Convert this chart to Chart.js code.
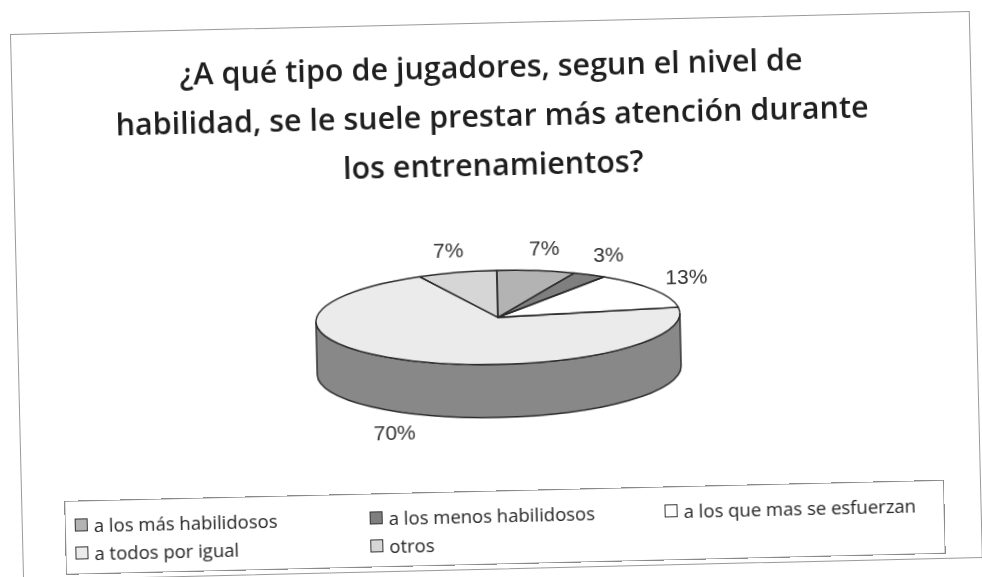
<!DOCTYPE html>
<html>
<head>
<meta charset="utf-8">
<script src="https://cdn.jsdelivr.net/npm/chart.js@4.4.1/dist/chart.umd.min.js"></script>
<style>
  body { margin: 0; background: #fff; width: 982px; height: 577px; overflow: hidden; position: relative; font-family: 'Open Sans', sans-serif; }
  #frame { position: absolute; left: 10px; top: 34px; width: 960px; height: 547px; border: 1px solid #9a9a9a; box-sizing: border-box; transform-origin: 0 0; transform: rotate(-1.37deg); background: #fff; }
  #frame canvas { position: absolute; left: 0; top: 0; }
  #legend { position: absolute; left: 42px; top: 467px; width: 880px; height: 74px; border: 1px solid #8a8a8a; box-sizing: border-box; }
  .item { position: absolute; font-size: 18.5px; color: #222; display: flex; align-items: center; white-space: nowrap; height: 24px; }
  .item i { width: 11px; height: 11px; border: 1px solid #333; margin-right: 6px; display: inline-block; }
</style>
</head>
<body>
<div id="frame">
  <canvas id="chart" width="958" height="545"></canvas>
  <div id="legend"></div>
</div>
<script>
const labels = ['a los más habilidosos', 'a los menos habilidosos', 'a los que mas se esfuerzan', 'a todos por igual', 'otros'];
const values = [7, 3, 13, 70, 7];
const pctLabels = ['7%', '3%', '13%', '70%', '7%'];
const titleLines = ['¿A qué tipo de jugadores, segun el nivel de', 'habilidad, se le suele prestar más atención durante', 'los entrenamientos?'];
const colors = ['#b3b3b3', '#7f7f7f', '#ffffff', '#ebebeb', '#d6d6d6'];

// where the tilted pie sits inside the frame
const PIE = { cx: 480, cy: 294, rx: 182, ry: 47, depth: 53 };

function darken(hex, f) {
  const n = parseInt(hex.slice(1), 16);
  const r = Math.round(((n >> 16) & 255) * f), g = Math.round(((n >> 8) & 255) * f), b = Math.round((n & 255) * f);
  return `rgb(${r},${g},${b})`;
}

function pt(a, dy) {
  return [PIE.cx + PIE.rx * Math.cos(a), PIE.cy + PIE.ry * Math.sin(a) + (dy || 0)];
}

// squash the library's pie into an ellipse, add the side wall, outlines and labels
const pie3d = {
  id: 'pie3d',
  beforeDatasetsDraw(chart) {
    const ctx = chart.ctx;
    const arcs = chart.getDatasetMeta(0).data;
    ctx.save();
    arcs.forEach((a, i) => {
      const a0 = Math.max(a.startAngle, 0), a1 = Math.min(a.endAngle, Math.PI);
      if (a1 <= a0) return;
      ctx.beginPath();
      ctx.ellipse(PIE.cx, PIE.cy, PIE.rx, PIE.ry, 0, a0, a1);
      const p = pt(a1, PIE.depth);
      ctx.lineTo(p[0], p[1]);
      ctx.ellipse(PIE.cx, PIE.cy + PIE.depth, PIE.rx, PIE.ry, 0, a1, a0, true);
      ctx.closePath();
      ctx.fillStyle = darken(colors[i], 0.58);
      ctx.fill();
      ctx.lineWidth = 1.4;
      ctx.strokeStyle = '#2a2a2a';
      ctx.stroke();
    });
    ctx.restore();

    const a = arcs[0];
    ctx.save();
    ctx.translate(PIE.cx, PIE.cy);
    ctx.scale(PIE.rx / a.outerRadius, PIE.ry / a.outerRadius);
    ctx.translate(-a.x, -a.y);
  },
  afterDatasetsDraw(chart) {
    const ctx = chart.ctx;
    ctx.restore();
    const arcs = chart.getDatasetMeta(0).data;
    ctx.save();
    ctx.lineWidth = 1.4;
    ctx.strokeStyle = '#2a2a2a';
    ctx.lineJoin = 'round';
    arcs.forEach((a) => {
      ctx.beginPath();
      ctx.moveTo(PIE.cx, PIE.cy);
      const p = pt(a.startAngle);
      ctx.lineTo(p[0], p[1]);
      ctx.ellipse(PIE.cx, PIE.cy, PIE.rx, PIE.ry, 0, a.startAngle, a.endAngle);
      ctx.closePath();
      ctx.stroke();
    });
    ctx.font = '21px "Liberation Sans", Arial, sans-serif';
    ctx.fillStyle = '#333';
    ctx.textAlign = 'center';
    ctx.textBaseline = 'middle';
    arcs.forEach((a, i) => {
      const mid = (a.startAngle + a.endAngle) / 2;
      const c = Math.cos(mid), s = Math.sin(mid);
      const x = PIE.cx + (PIE.rx + 38) * c;
      const y = PIE.cy + (PIE.ry + 21) * s + (s > 0 ? PIE.depth + 2 : 0);
      ctx.fillText(pctLabels[i], x, y);
    });
    ctx.restore();
  }
};

new Chart(document.getElementById('chart'), {
  type: 'pie',
  data: {
    labels: labels,
    datasets: [{
      data: values,
      backgroundColor: colors,
      borderWidth: 0,
      hoverOffset: 0,
      clip: false,
    }]
  },
  options: {
    responsive: false,
    animation: false,
    events: [],
    layout: { padding: { left: 0, right: 0, top: 0, bottom: 80 } },
    plugins: {
      legend: { display: false },
      tooltip: { enabled: false },
      title: {
        display: true,
        text: titleLines,
        color: '#1e1e1e',
        font: { family: "'Open Sans', sans-serif", size: 30.5, weight: '600', lineHeight: 1.6 },
        padding: { top: 21, bottom: 10 },
      }
    }
  },
  plugins: [pie3d]
});

// legend, 3 columns x 2 rows like the original
const legendEl = document.getElementById('legend');
labels.forEach((lab, i) => {
  const el = document.createElement('div');
  el.className = 'item';
  el.style.left = (9 + (i % 3) * 295) + 'px';
  el.style.top = (11 + Math.floor(i / 3) * 28) + 'px';
  el.innerHTML = `<i style="background:${colors[i]}"></i>${lab}`;
  legendEl.appendChild(el);
});
</script>
</body>
</html>
